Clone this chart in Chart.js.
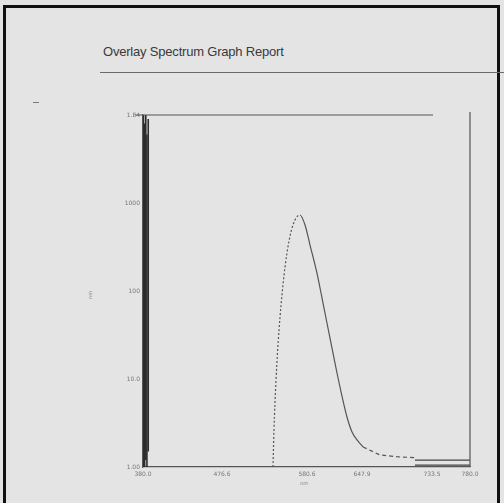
<!DOCTYPE html>
<html>
<head>
<meta charset="utf-8">
<script src="https://cdn.jsdelivr.net/npm/chart.js@4"></script>
<style>
  html, body { margin: 0; padding: 0; background: #e4e4e4; }
  #page { position: absolute; left: 3px; top: 5px; width: 497px; height: 500px;
          border: 3px solid #111; border-bottom: none; box-sizing: border-box; }
  #title { position: absolute; left: 103px; top: 44px; font: 13px "Liberation Sans", Arial, sans-serif;
           color: #3a3a3a; letter-spacing: -0.2px; }
  #rule { position: absolute; left: 100px; top: 72px; width: 404px; height: 1px; background: #6a6a6a; }
  #dash { position: absolute; left: 33px; top: 102px; width: 6px; height: 1px; background: #777; }
  #unitY { position: absolute; left: 86px; top: 292px; font: 5px "DejaVu Sans", sans-serif; color: #888;
           transform: rotate(-90deg); }
  #unitX { position: absolute; left: 300px; top: 480px; font: 5px "DejaVu Sans", sans-serif; color: #888; }
  #wrap { position: absolute; left: 0; top: 0; width: 504px; height: 503px; }
</style>
</head>
<body>
<div id="page"></div>
<div id="title">Overlay Spectrum Graph Report</div>
<div id="rule"></div>
<div id="dash"></div>
<div id="unitY">nm</div>
<div id="unitX">nm</div>
<div id="wrap"><canvas id="c" width="504" height="503"></canvas></div>
<script>
// wavelength (nm) and intensity, log scale
// the leading edge (up to the peak) is drawn dashed
var peakX = [539.0, 540.2, 542.7, 546.4, 551.2, 556.1, 561.0, 565.9, 572.0,
             578.2, 584.3, 592.8, 599.0, 605.1, 611.2, 617.3, 623.4, 629.5, 635.7, 641.8, 649.1];
var peakY = [1, 2.6, 9.7, 36, 117, 270, 468, 641, 731,
             563, 333, 160, 83, 43, 22.5, 11.7, 6.4, 3.7, 2.5, 2.03, 1.69];
var peakIndex = 8;
var tailX = [649.1, 669.9, 694.4, 712.7];
var tailY = [1.69, 1.37, 1.3, 1.28];
var baseX = [712.7, 780];
var baseHi = [1.2, 1.2];
var baseLo = [1.05, 1.05];
// overlaid traces squeezed at the short end
var noiseX = [380.6, 382.0, 383.4, 384.8, 386.4];
var noiseTop = [10000, 8000, 10000, 6000, 9000];
var noiseBottom = [1, 1, 1.2, 1, 1.5];

var xTicks = [380, 476.6, 580.6, 647.9, 733.5, 780];
var xTickLabels = ["380.0", "476.6", "580.6", "647.9", "733.5", "780.0"];
var yTicks = [1, 10, 100, 1000, 10000];
var yTickLabels = ["1.00", "10.0", "100", "1000", "1.E4"];

function pts(xs, ys) {
    var out = [];
    for (var i = 0; i < xs.length; i++) {
        out.push({x: xs[i], y: ys[i]});
    }
    return out;
}

function line(data, opts) {
    var ds = {
        data: data,
        borderColor: "#555",
        borderWidth: 1.2,
        pointRadius: 0,
        fill: false,
        tension: 0.4
    };
    for (var k in opts) ds[k] = opts[k];
    return ds;
}

var datasets = [
    line(pts(peakX, peakY), {
        cubicInterpolationMode: "monotone",
        segment: {
            borderDash: function (ctx) { return ctx.p0DataIndex < peakIndex ? [2, 2] : undefined; }
        }
    }),
    line(pts(tailX, tailY), {borderDash: [4, 3], tension: 0}),
    line(pts(baseX, baseHi), {tension: 0, borderColor: "#444"}),
    line(pts(baseX, baseLo), {tension: 0, borderColor: "#444"})
];
for (var i = 0; i < noiseX.length; i++) {
    datasets.push(line(pts([noiseX[i], noiseX[i]], [noiseBottom[i], noiseTop[i]]),
        {tension: 0, borderColor: "#2c2c2c", borderWidth: 1.6}));
}

// top and right frame lines
var frame = {
    id: "frame",
    afterDraw: function (chart) {
        var a = chart.chartArea, ctx = chart.ctx;
        ctx.save();
        ctx.strokeStyle = "#555";
        ctx.lineWidth = 1.2;
        ctx.beginPath();
        ctx.moveTo(a.left - 8, a.top);
        ctx.lineTo(a.left + 290, a.top);
        ctx.moveTo(a.right, a.top - 3);
        ctx.lineTo(a.right, a.bottom);
        ctx.stroke();
        ctx.restore();
    }
};

new Chart(document.getElementById("c").getContext("2d"), {
    type: "line",
    data: {datasets: datasets},
    options: {
        responsive: false,
        animation: false,
        layout: {padding: {left: 103, right: 34, top: 115, bottom: 20}},
        plugins: {legend: {display: false}, tooltip: {enabled: false}},
        scales: {
            x: {
                type: "linear",
                min: 380,
                max: 780,
                grid: {display: false, drawTicks: true, tickLength: 3, tickColor: "#777"},
                border: {color: "#555", width: 1.2},
                afterBuildTicks: function (s) {
                    s.ticks = xTicks.map(function (v) { return {value: v}; });
                },
                afterFit: function (s) { s.height = 16; },
                ticks: {
                    autoSkip: false,
                    maxRotation: 0,
                    padding: 1,
                    color: "#777",
                    font: {size: 6, family: "DejaVu Sans"},
                    callback: function (v, i) { return xTickLabels[i]; }
                }
            },
            y: {
                type: "logarithmic",
                min: 1,
                max: 10000,
                grid: {display: false, drawTicks: true, tickLength: 2, tickColor: "#777"},
                border: {color: "#555", width: 1.2},
                afterBuildTicks: function (s) {
                    s.ticks = yTicks.map(function (v) { return {value: v}; });
                },
                afterFit: function (s) { s.width = 40; },
                ticks: {
                    autoSkip: false,
                    padding: 1,
                    color: "#777",
                    font: {size: 6, family: "DejaVu Sans"},
                    callback: function (v, i) { return yTickLabels[i]; }
                }
            }
        }
    },
    plugins: [frame]
});
</script>
</body>
</html>
